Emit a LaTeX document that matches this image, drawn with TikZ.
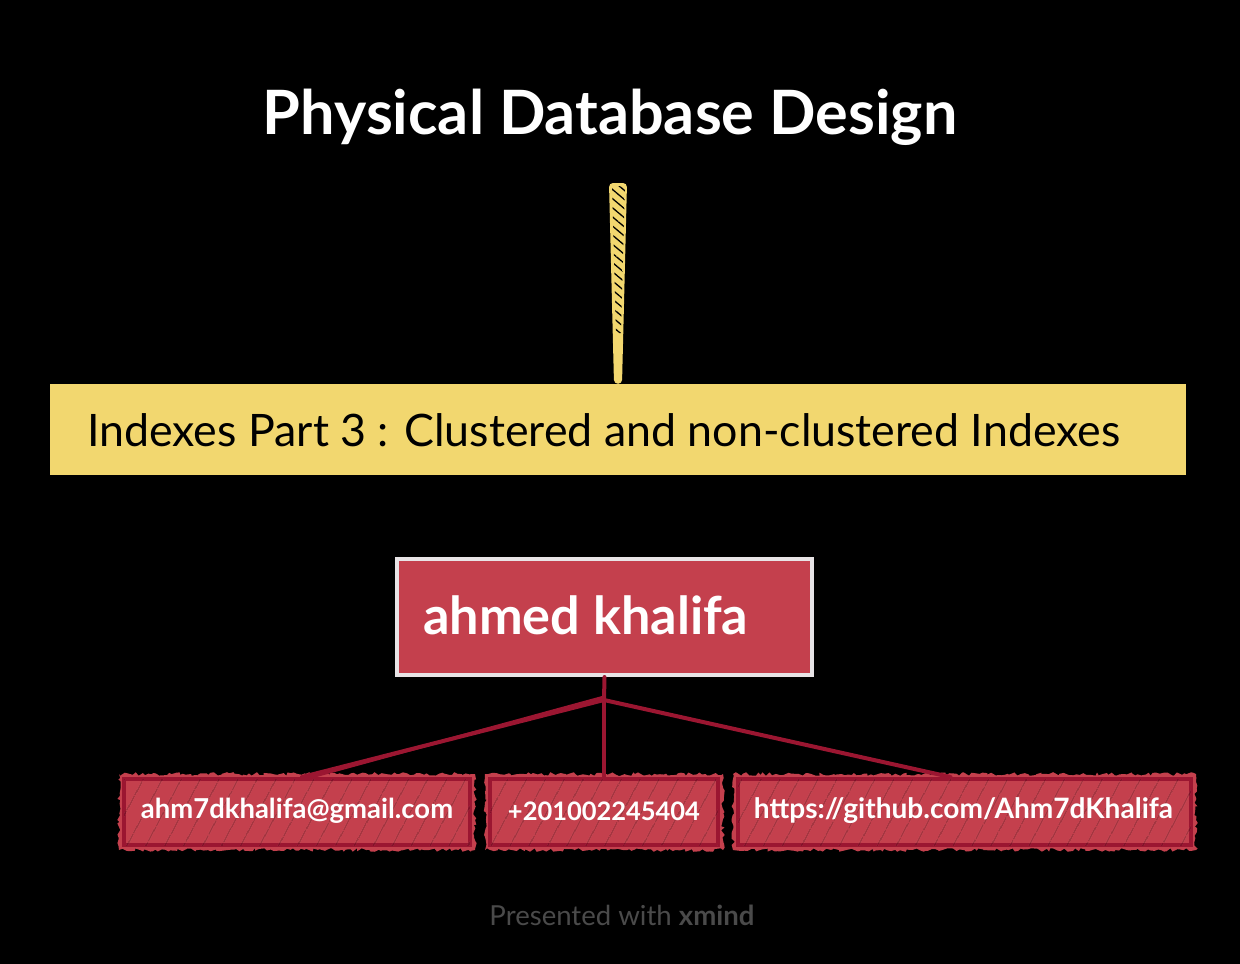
\documentclass[tikz,border=0pt]{standalone}
\usepackage{fontspec}
\usepackage{graphicx}
\setmainfont{Lato}
\usetikzlibrary{patterns.meta,decorations.pathmorphing,calc}
\definecolor{bg}{HTML}{000000}
\definecolor{yel}{HTML}{F2D76F}
\definecolor{redfill}{HTML}{C4404D}
\definecolor{redline}{HTML}{9B1631}
\definecolor{boxedge}{HTML}{E8E4E6}
\definecolor{foot}{HTML}{4A4A4A}
\tikzset{
  childbox/.style={draw=redline, line width=4pt, fill=redfill, minimum height=66pt, inner sep=0pt, text=white},
  branch/.style={draw=redline, line width=4pt, line cap=round},
  rough/.style={fill=redfill, decorate, decoration={random steps, segment length=3pt, amplitude=1.8pt}},
  hatch/.style={pattern={Lines[angle=62,distance=17pt,line width=0.8pt]}, pattern color=black, fill opacity=0.45},
}
\begin{document}
\begin{tikzpicture}[x=1pt,y=-1pt]
\fill[bg] (0,0) rectangle (1240,964);
\useasboundingbox (0,0) rectangle (1240,964);

% title
\node[text=white, inner sep=0pt] (title) at (610,117) {\resizebox{694pt}{!}{\bfseries Physical Database Design}};

% main topic bar
\node[fill=yel, minimum width=1136pt, minimum height=91pt, inner sep=0pt] (topic) at (618,429.5) {};
\node[anchor=west, inner sep=0pt, text=black] (topictext) at (87,430) {\resizebox{1033pt}{!}{Indexes Part 3 : Clustered and non-clustered Indexes}};

% yellow tapered connector
\coordinate (ytop) at (618,183);
\fill[yel, rounded corners=4pt] ($(ytop)+(-9,0)$) -- ($(ytop)+(9,0)$) -- ($(topic.north)+(4,0)$) -- ($(topic.north)+(-4,0)$) -- cycle;
\begin{scope}
\clip ($(ytop)+(-6,3)$) -- ($(ytop)+(7,3)$) -- ($(ytop)+(3,150)$) -- ($(ytop)+(-2,150)$) -- cycle;
\fill[pattern={Lines[angle=-40,distance=7pt,line width=1.3pt]}, pattern color=black, fill opacity=0.85] ($(ytop)+(-10,0)$) rectangle ($(ytop)+(10,150)$);
\end{scope}

% ahmed khalifa box
\node[draw=boxedge, line width=4pt, fill=redfill, minimum width=415pt, minimum height=116pt, inner sep=0pt] (me) at (604.5,617) {};
\node[anchor=west, inner sep=0pt, text=white] (metext) at (423,615) {\resizebox{325pt}{!}{\bfseries ahmed khalifa}};

% children (rough edge first)
\fill[rough] (119,774) rectangle (475,850);
\fill[rough] (485,774) rectangle (723,850);
\fill[rough] (733,774) rectangle (1196,850);
\node[childbox, minimum width=346pt] (email) at (297,812) {};
\node[childbox, minimum width=228pt] (phone) at (604,812) {};
\node[childbox, minimum width=453pt] (git) at (964.5,812) {};
\foreach \n in {email,phone,git}{
  \fill[hatch] ($(\n.north west)+(2,2)$) rectangle ($(\n.south east)+(-2,-2)$);
}
\node[text=white, inner sep=0pt] (emailtext) at (297,811) {\resizebox{312pt}{!}{\bfseries ahm7dkhalifa@gmail.com}};
\node[text=white, inner sep=0pt] (phonetext) at (604,811) {\resizebox{192pt}{!}{\bfseries +201002245404}};
\node[text=white, inner sep=0pt] (gittext) at (963.5,811) {\resizebox{419pt}{!}{\bfseries https://github.com/Ahm7dKhalifa}};

% connectors
\coordinate (j) at (604,700);
\draw[branch] (me.south) -- (j);
\draw[branch] (j) -- ([xshift=5pt]email.north);
\draw[branch, line width=3pt] ([yshift=3pt]j) -- ([xshift=14pt]email.north);
\draw[branch] (j) -- (phone.north);
\draw[branch] (j) -- ([xshift=-14pt]git.north);

% footer
\node[text=foot, inner sep=0pt] (footer) at (622,915) {\resizebox{265pt}{!}{Presented with \textbf{xmind}}};
\end{tikzpicture}
\end{document}
